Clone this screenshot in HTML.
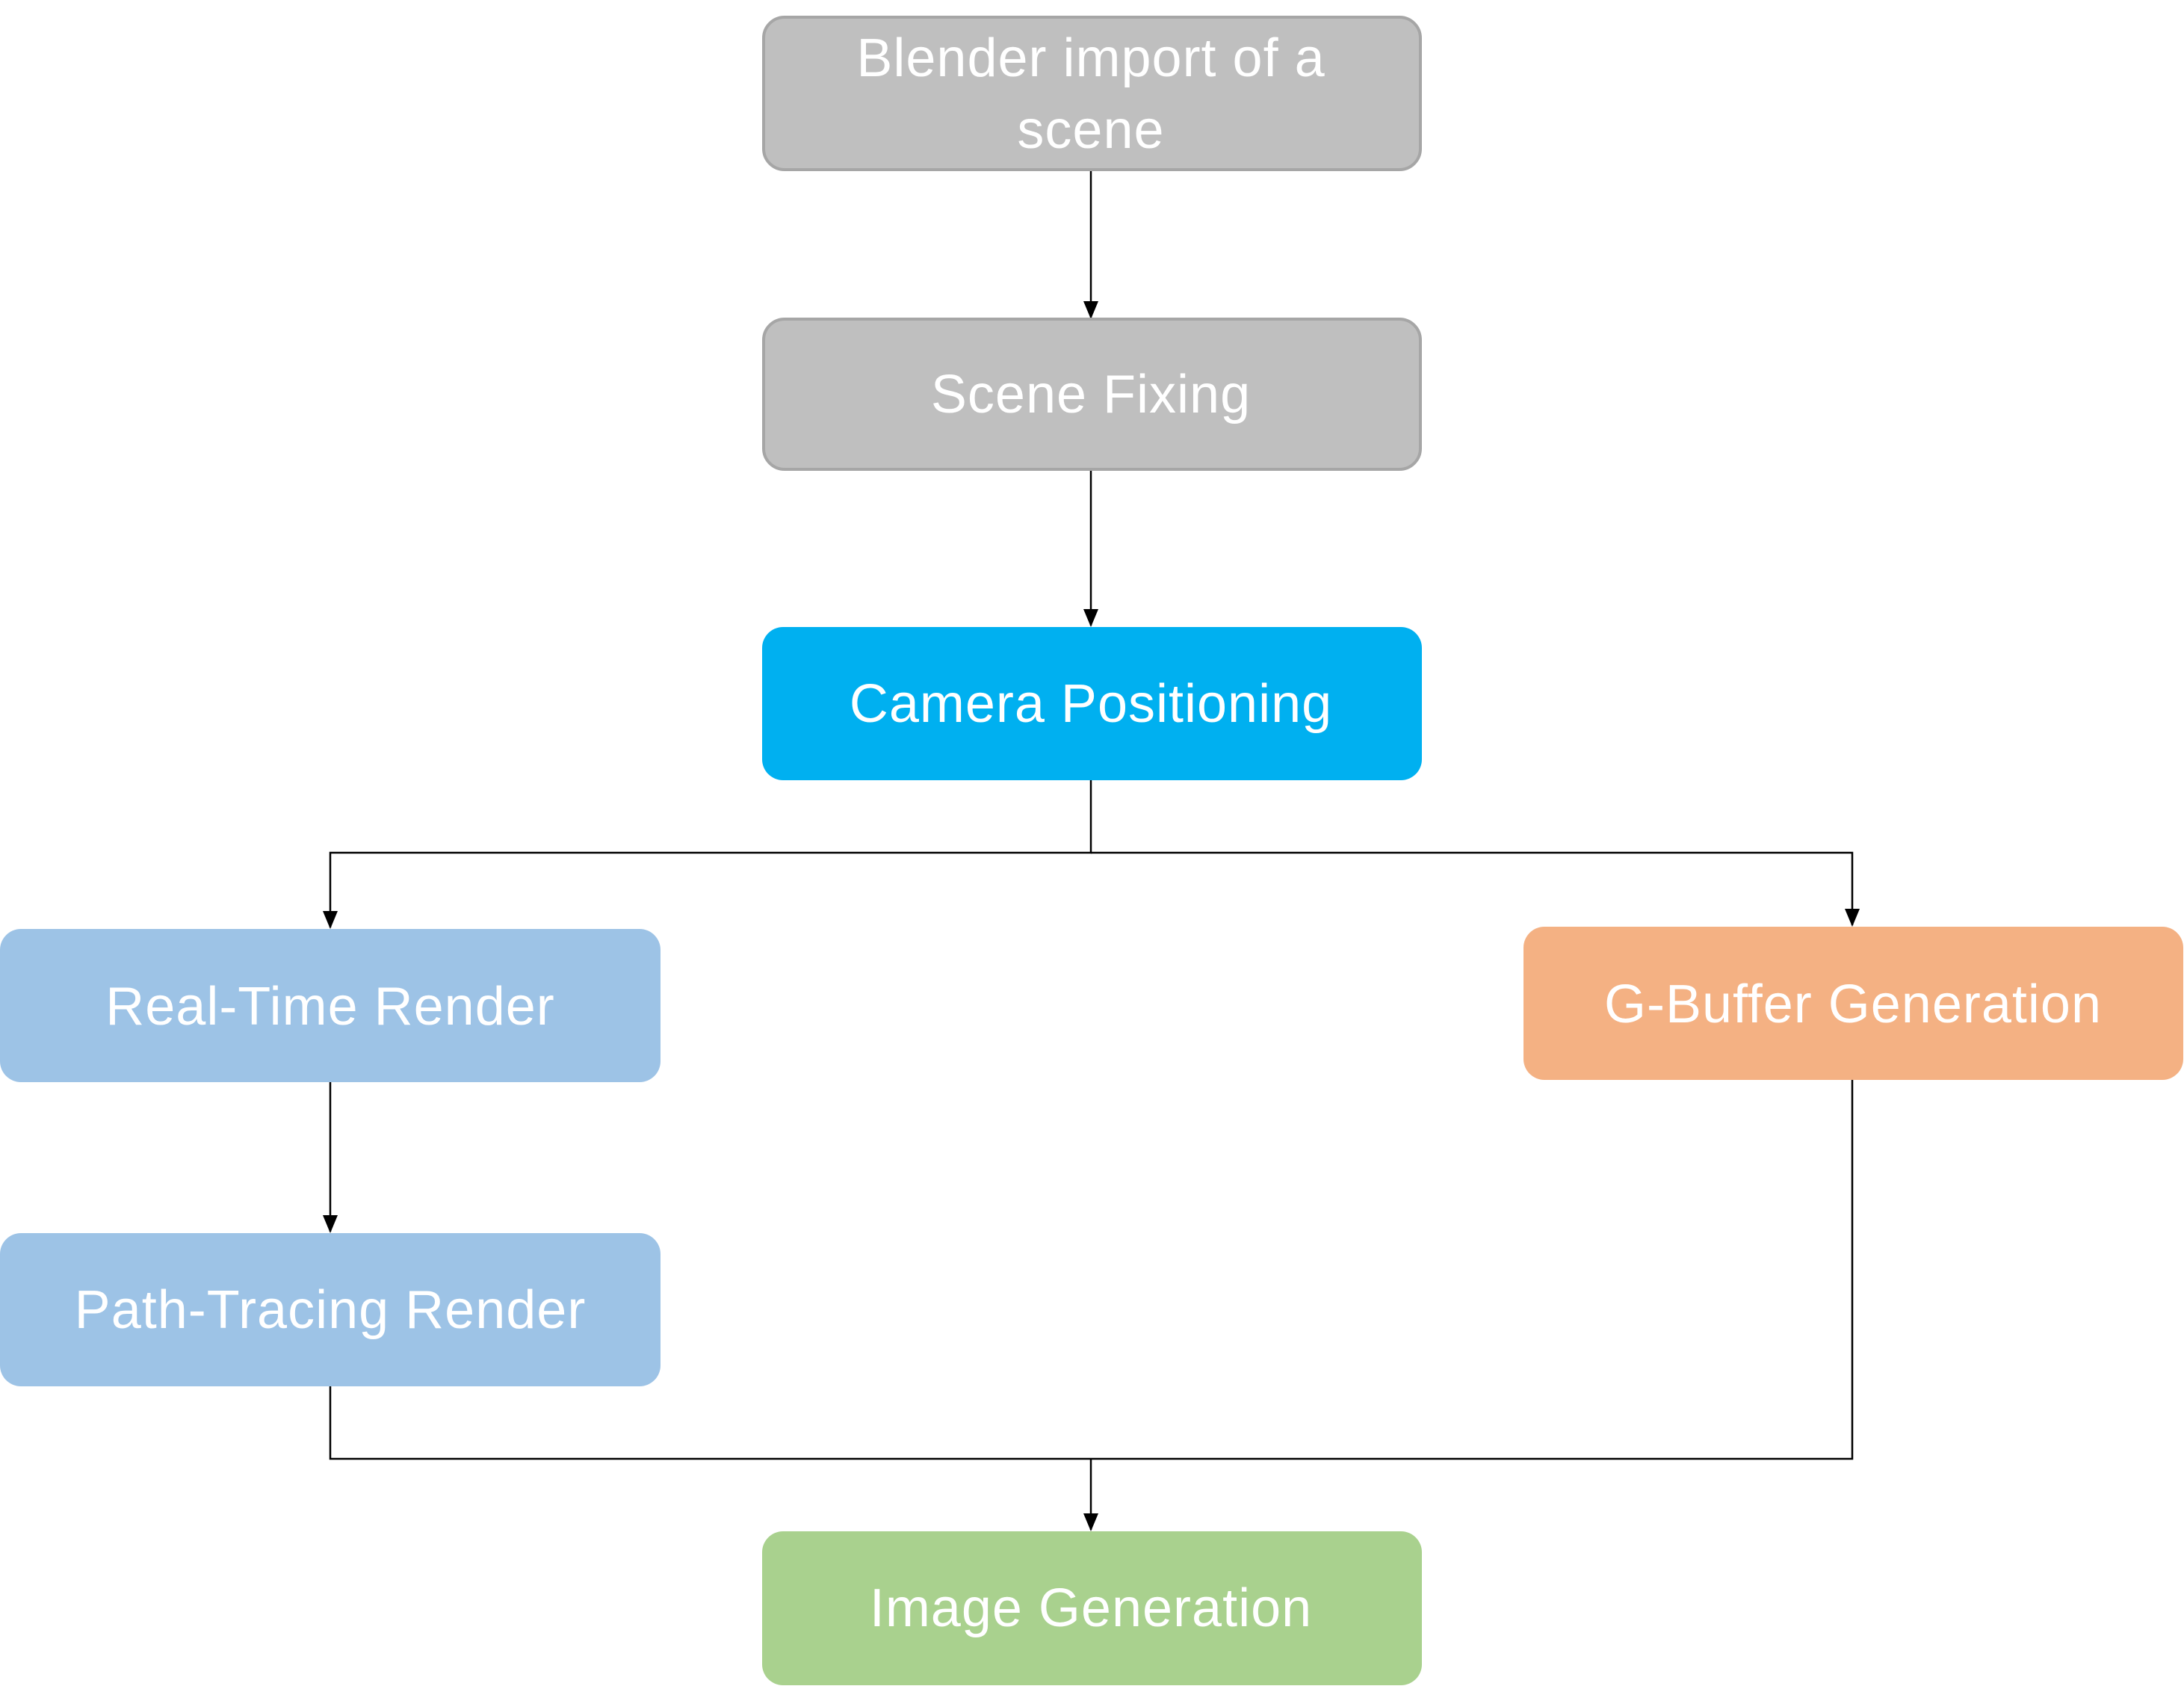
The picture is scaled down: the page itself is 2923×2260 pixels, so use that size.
<!DOCTYPE html>
<html><head><meta charset="utf-8"><style>
body{margin:0;background:#fff;}
svg text{font-family:"Liberation Sans",sans-serif;font-size:72px;letter-spacing:1px;fill:#fff;text-anchor:middle;dominant-baseline:central;}
</style></head><body>
<svg width="2923" height="2255" viewBox="0 0 2923 2255" xmlns="http://www.w3.org/2000/svg">
<defs><marker id="a" markerWidth="24" markerHeight="24" refX="22" refY="12" orient="auto" markerUnits="userSpaceOnUse"><path d="M0,2 L24,12 L0,22 Z" fill="#000"/></marker></defs>
<g stroke="#000" stroke-width="2.5" fill="none">
<line x1="1460" y1="227" x2="1460" y2="425" marker-end="url(#a)"/>
<line x1="1460" y1="628" x2="1460" y2="837" marker-end="url(#a)"/>
<polyline points="1460,1044 1460,1141 442,1141 442,1241" marker-end="url(#a)"/>
<polyline points="1460,1141 2479,1141 2479,1238" marker-end="url(#a)"/>
<line x1="442" y1="1448" x2="442" y2="1648" marker-end="url(#a)"/>
<polyline points="442,1855 442,1952 2479,1952 2479,1445"/>
<line x1="1460" y1="1952" x2="1460" y2="2047" marker-end="url(#a)"/>
</g>
<rect x="1022" y="23" width="879" height="204" rx="28" fill="#bfbfbf" stroke="#a6a6a6" stroke-width="4"/>
<text x="1460" y="78">Blender import of a</text>
<text x="1460" y="174">scene</text>
<rect x="1022" y="427" width="879" height="201" rx="28" fill="#bfbfbf" stroke="#a6a6a6" stroke-width="4"/>
<text x="1460" y="528">Scene Fixing</text>
<rect x="1020" y="839" width="883" height="205" rx="28" fill="#00b0f0"/>
<text x="1460" y="942">Camera Positioning</text>
<rect x="0" y="1243" width="884" height="205" rx="28" fill="#9dc3e6"/>
<text x="442" y="1347">Real-Time Render</text>
<rect x="2039" y="1240" width="883" height="205" rx="28" fill="#f4b183"/>
<text x="2480" y="1344">G-Buffer Generation</text>
<rect x="0" y="1650" width="884" height="205" rx="28" fill="#9dc3e6"/>
<text x="442" y="1753">Path-Tracing Render</text>
<rect x="1020" y="2049" width="883" height="206" rx="28" fill="#a9d18e"/>
<text x="1460" y="2152">Image Generation</text>
</svg>
</body></html>
